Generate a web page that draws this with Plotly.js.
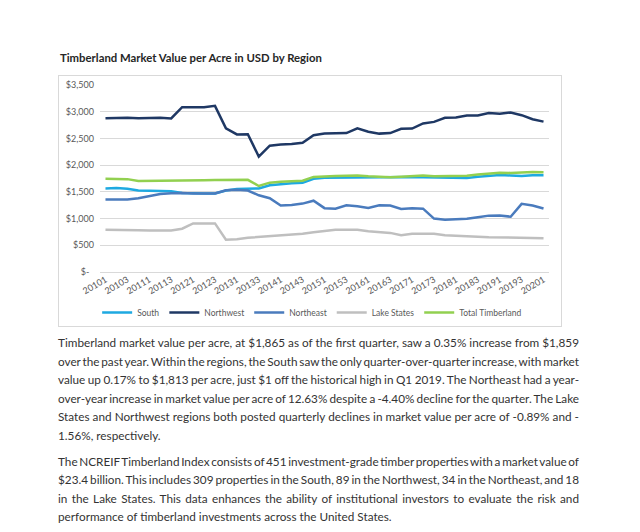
<!DOCTYPE html>
<html><head><meta charset="utf-8">
<script src="https://cdn.plot.ly/plotly-3.0.1.min.js"></script>
<style>
html,body{margin:0;padding:0;background:#fff;width:640px;height:532px;overflow:hidden;font-family:Lato,'Open Sans',sans-serif;}
#title{position:absolute;left:60px;white-space:nowrap;font-weight:bold;color:#262626;line-height:16px;}
#box{position:absolute;left:58px;top:75px;width:504px;height:252px;border:1px solid #d9d9d9;box-sizing:border-box;}
#chart{position:absolute;left:58px;top:75px;width:503px;height:251px;}
.ln{position:absolute;left:58px;white-space:nowrap;color:#333333;line-height:18px;}
#meas{position:absolute;left:-2000px;top:0;white-space:nowrap;visibility:hidden;}
</style></head><body>
<div id="title">Timberland Market Value per Acre in USD by Region</div>
<div id="box"></div>
<div id="chart"></div>
<div id="text"></div>
<span id="meas"></span>
<script>
// ---------- data ----------
var quarters = ["20101","20102","20103","20104","20111","20112","20113","20114",
  "20121","20122","20123","20124","20131","20132","20133","20134",
  "20141","20142","20143","20144","20151","20152","20153","20154",
  "20161","20162","20163","20164","20171","20172","20173","20174",
  "20181","20182","20183","20184","20191","20192","20193","20194","20201"];

var south = [1565,1570,1560,1525,1522,1520,1510,1480,
  1470,1470,1470,1525,1555,1560,1562,1625,
  1650,1662,1672,1745,1765,1768,1772,1775,
  1765,1768,1772,1778,1780,1772,1768,1765,
  1765,1760,1782,1798,1814,1808,1798,1810,1813];

var northwest = [2880,2885,2885,2880,2885,2885,2875,3085,
  3085,3085,3110,2690,2575,2580,2160,2365,
  2385,2395,2420,2560,2590,2590,2600,2690,
  2625,2590,2600,2680,2685,2780,2810,2885,
  2890,2930,2930,2975,2960,2985,2935,2860,2815];

var northeast = [1355,1355,1355,1380,1415,1460,1475,1480,
  1470,1468,1468,1530,1540,1525,1435,1380,
  1245,1255,1280,1335,1195,1185,1250,1230,
  1200,1250,1245,1180,1195,1185,1000,978,
  985,995,1025,1055,1057,1035,1275,1245,1190];

var lakeStates = [790,790,790,780,775,775,775,810,
  910,910,910,605,612,640,655,672,
  685,692,715,742,772,790,790,790,
  762,750,732,690,715,715,715,688,
  675,670,662,652,650,650,645,636,630];

var totalTimberland = [1745,1745,1738,1705,1705,1710,1705,1712,
  1718,1718,1720,1725,1720,1725,1610,1672,
  1688,1698,1708,1780,1792,1795,1800,1805,
  1790,1785,1772,1785,1792,1808,1790,1795,
  1798,1800,1825,1838,1859,1855,1865,1872,1865];

var seriesNames = ["South","Northwest","Northeast","Lake States","Total Timberland"];
var seriesColors = ["#1ea9e1","#1f3864","#4a7bbd","#bfbfbf","#92d050"];
var yTicks = [0,500,1000,1500,2000,2500,3000,3500];

var titleText = "Timberland Market Value per Acre in USD by Region";
var para1 = [
 "Timberland market value per acre, at $1,865 as of the first quarter, saw a 0.35% increase from $1,859",
 "over the past year. Within the regions, the South saw the only quarter-over-quarter increase, with market",
 "value up 0.17% to $1,813 per acre, just $1 off the historical high in Q1 2019. The Northeast had a year-",
 "over-year increase in market value per acre of 12.63% despite a -4.40% decline for the quarter. The Lake",
 "States and Northwest regions both posted quarterly declines in market value per acre of -0.89% and -",
 "1.56%, respectively."
];
var para2 = [
 "The NCREIF Timberland Index consists of 451 investment-grade timber properties with a market value of",
 "$23.4 billion. This includes 309 properties in the South, 89 in the Northwest, 34 in the Northeast, and 18",
 "in the Lake States. This data enhances the ability of institutional investors to evaluate the risk and",
 "performance of timberland investments across the United States."
];

// ---------- text layout ----------
var meas = document.getElementById('meas');
function mw(txt, size, weight){
  meas.style.fontSize = size+'px'; meas.style.fontWeight = weight||'normal';
  meas.textContent = txt; return meas.getBoundingClientRect().width;
}
function layoutText(){
  var title = document.getElementById('title');
  var ts = 13 * 262 / mw(titleText, 13, 'bold');
  title.style.fontSize = ts+'px';
  title.style.top = (58-8)+'px';

  var fs = 12 * 334 / mw(para2[3], 12);
  var fullW = 521;
  var host = document.getElementById('text');
  function addPara(lines, y0){
    lines.forEach(function(t, i){
      var d = document.createElement('div');
      d.className = 'ln';
      d.style.fontSize = fs+'px';
      d.style.top = (y0 + i*18.6 - 9)+'px';
      d.textContent = t;
      if (i < lines.length-1){
        var w = mw(t, fs);
        var n = (t.match(/ /g)||[]).length;
        if (n>0) d.style.wordSpacing = ((fullW - w)/n)+'px';
      }
      host.appendChild(d);
    });
  }
  addPara(para1, 343);
  addPara(para2, 461.5);
}

function fmt(v){ return v===0 ? '$-\u00a0\u00a0' : '$'+v.toLocaleString('en-US'); }

function drawChart(){
  var data = [south, northwest, northeast, lakeStates, totalTimberland];
  var traces = data.map(function(arr, k){
    return {x: quarters, y: arr, type:'scatter', mode:'lines', name: seriesNames[k],
      line:{color: seriesColors[k], width:2.5}, hoverinfo:'skip'};
  });
  var layout = {
    width:503, height:251,
    margin:{l:42, r:12, t:10, b:54, autoexpand:false},
    paper_bgcolor:'rgba(0,0,0,0)', plot_bgcolor:'rgba(0,0,0,0)',
    font:{family:'Lato, sans-serif', size:9, color:'#595959'},
    xaxis:{type:'category', range:[-0.5, quarters.length-0.5], tickmode:'array',
      tickvals: quarters.filter(function(q,i){return i%2===0;}),
      tickangle:-30, showgrid:false, zeroline:false, showline:false, ticks:'',
      tickfont:{size:9, color:'#595959'}, automargin:false, fixedrange:true},
    yaxis:{range:[0,3500], tickmode:'array', tickvals:yTicks, ticktext:yTicks.map(fmt),
      gridcolor:'#d9d9d9', gridwidth:1, zeroline:true, zerolinecolor:'#d9d9d9', zerolinewidth:1,
      showline:false, ticks:'',
      ticklabelstandoff:5, automargin:false, fixedrange:true,
      tickfont:{size:9, color:'#595959'}},
    showlegend:true,
    legend:{orientation:'h', x:0.4725, xanchor:'center', y:-0.216, yanchor:'middle',
      font:{size:8.5, color:'#595959'}, bgcolor:'rgba(0,0,0,0)', traceorder:'normal'}
  };
  Plotly.newPlot('chart', traces, layout, {displayModeBar:false, staticPlot:true});
}

function go(){ layoutText(); drawChart(); }
if (document.fonts && document.fonts.ready){ document.fonts.ready.then(go); } else { go(); }
</script>
</body></html>
